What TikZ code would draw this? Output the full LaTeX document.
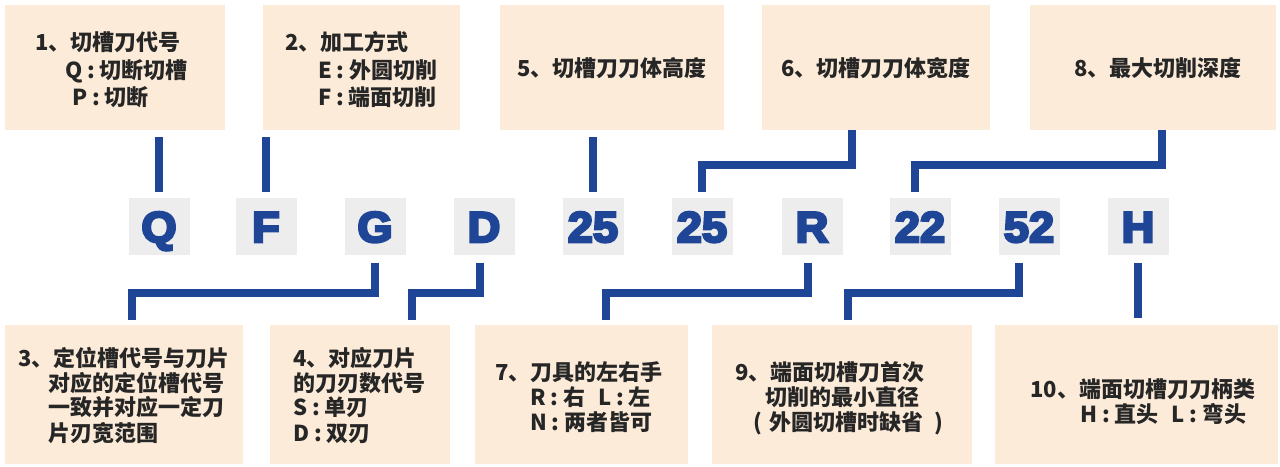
\documentclass[tikz,border=0pt]{standalone}
\usepackage{fontspec}
\newfontfamily\cjk{Noto Sans CJK SC}
\newfontfamily\codefont{Liberation Sans Bold}[FakeBold=6,FakeStretch=1.05]
\definecolor{boxfill}{RGB}{252,235,216}
\definecolor{codegray}{RGB}{237,237,237}
\definecolor{codeblue}{RGB}{30,69,150}
\definecolor{txt}{RGB}{38,38,38}
\newcommand\mycolon{\hspace{0.22em}:\hspace{0.22em}}
\begin{document}
\begin{tikzpicture}[x=1pt,y=-1pt,
  box/.style={fill=boxfill,draw=none,inner sep=0pt},
  code/.style={fill=codegray,inner sep=0pt,minimum width=61pt,minimum height=57pt,
    text=codeblue,font=\codefont\fontsize{43}{43}\selectfont,text height=31pt,text depth=0pt},
  conn/.style={draw=codeblue,line width=8pt},
  lbl/.style={inner sep=0pt,anchor=base west,text=txt,font=\cjk\bfseries\fontsize{22}{26}\selectfont},
  lblc/.style={lbl,anchor=base}
]
\fill[white] (0,0) rectangle (1280,466);
\useasboundingbox (0,0) rectangle (1280,466);

% top boxes
\node[box,minimum width=220pt,minimum height=125pt] (t1) at (115,67.5) {};
\node[box,minimum width=197pt,minimum height=125pt] (t2) at (361.5,67.5) {};
\node[box,minimum width=224pt,minimum height=125pt] (t5) at (612,67.5) {};
\node[box,minimum width=228pt,minimum height=125pt] (t6) at (876,67.5) {};
\node[box,minimum width=246pt,minimum height=125pt] (t8) at (1153,67.5) {};

% bottom boxes
\node[box,minimum width=238pt,minimum height=139pt] (b3) at (124,394.5) {};
\node[box,minimum width=180pt,minimum height=139pt] (b4) at (360,394.5) {};
\node[box,minimum width=213pt,minimum height=139pt] (b7) at (581.5,394.5) {};
\node[box,minimum width=260pt,minimum height=139pt] (b9) at (842,394.5) {};
\node[box,minimum width=283pt,minimum height=139pt] (b10) at (1136.5,394.5) {};

% code squares
\node[code] (cq) at (159,226.5) {Q};
\node[code] (cf) at (266,226.5) {F};
\node[code] (cg) at (375,226.5) {G};
\node[code] (cd) at (484,226.5) {D};
\node[code] (c25a) at (593,226.5) {25};
\node[code] (c25b) at (702,226.5) {25};
\node[code] (cr) at (812,226.5) {R};
\node[code] (c22) at (920,226.5) {22};
\node[code] (c52) at (1029,226.5) {52};
\node[code] (ch) at (1138,226.5) {H};

% top texts
\node[lbl] (t1a) at (35,50) {1、切槽刀代号};
\node[lbl] (t1b) at (65,78) {Q\mycolon 切断切槽};
\node[lbl] (t1c) at (72,105) {P\mycolon 切断};
\node[lbl] (t2a) at (285,50) {2、加工方式};
\node[lbl] (t2b) at (318,78) {E\mycolon 外圆切削};
\node[lbl] (t2c) at (318,105) {F\mycolon 端面切削};
\node[lblc] (t5a) at (612,76) {5、切槽刀刀体高度};
\node[lblc] (t6a) at (876,76) {6、切槽刀刀体宽度};
\node[lblc] (t8a) at (1158,76) {8、最大切削深度};

% bottom texts
\node[lbl] (b3a) at (18,366) {3、定位槽代号与刀片};
\node[lbl] (b3b) at (48,391) {对应的定位槽代号};
\node[lbl] (b3c) at (48,415) {一致并对应一定刀};
\node[lbl] (b3d) at (48,441) {片刃宽范围};
\node[lbl] (b4a) at (293,366) {4、对应刀片};
\node[lbl] (b4b) at (293,391) {的刀刃数代号};
\node[lbl] (b4c) at (293,415) {S\mycolon 单刃};
\node[lbl] (b4d) at (293,441) {D\mycolon 双刃};
\node[lbl] (b7a) at (495,380) {7、刀具的左右手};
\node[lbl] (b7b) at (530,405) {R\mycolon 右\hspace{0.6em}L\mycolon 左};
\node[lbl] (b7c) at (530,430) {N\mycolon 两者皆可};
\node[lbl] (b9a) at (735,380) {9、端面切槽刀首次};
\node[lbl] (b9b) at (765,405) {切削的最小直径};
\node[lbl] (b9c) at (753,430) {(\hspace{0.35em}外圆切槽时缺省\hspace{0.5em})};
\node[lbl] (b10a) at (1030,397) {10、端面切槽刀刀柄类};
\node[lbl] (b10b) at (1080,422) {H\mycolon 直头\hspace{0.6em}L\mycolon 弯头};

% top connectors
\draw[conn,shorten <=7pt,shorten >=6pt] (t1.south -| cq) -- (cq.north);
\draw[conn,shorten <=7pt,shorten >=6pt] (t2.south -| cf) -- (cf.north);
\draw[conn,shorten <=7pt,shorten >=6pt] (t5.south -| c25a) -- (c25a.north);
\draw[conn,shorten <=0pt,shorten >=6pt] ([xshift=-24pt]t6.south) -- ++(0,35) -| (c25b.north);
\draw[conn,shorten <=0pt,shorten >=6pt] ([xshift=9pt]t8.south) -- ++(0,35) -| ([xshift=-5pt]c22.north);

% bottom connectors
\draw[conn,shorten <=8pt,shorten >=5pt] (cg.south) -- ++(0,38) -| ([xshift=8pt]b3.north);
\draw[conn,shorten <=8pt,shorten >=5pt] ([xshift=-4pt]cd.south) -- ++(0,38) -| ([xshift=52pt]b4.north);
\draw[conn,shorten <=8pt,shorten >=5pt] ([xshift=-4pt]cr.south) -- ++(0,38) -| ([xshift=24.5pt]b7.north);
\draw[conn,shorten <=8pt,shorten >=5pt] ([xshift=-10pt]c52.south) -- ++(0,38) -| ([xshift=6pt]b9.north);
\draw[conn,shorten <=8pt,shorten >=7pt] (ch.south) -- (ch.south |- b10.north);
\end{tikzpicture}
\end{document}
